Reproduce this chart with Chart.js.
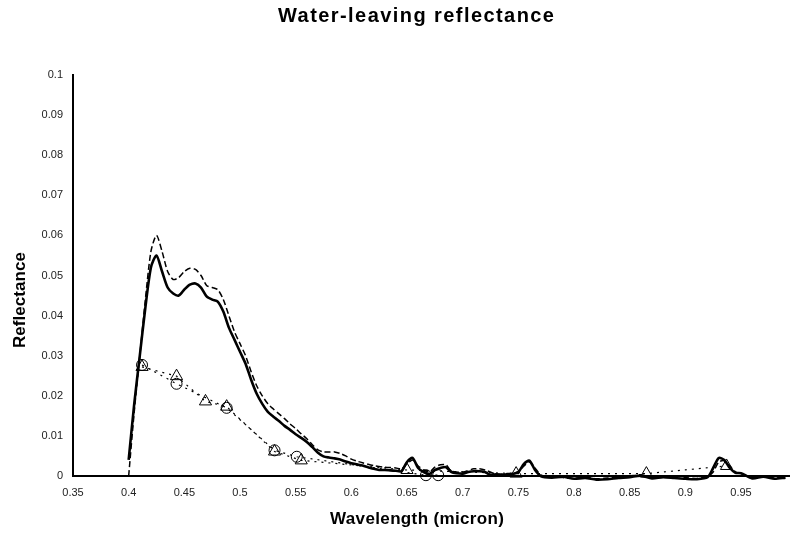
<!DOCTYPE html>
<html>
<head>
<meta charset="utf-8">
<script src="https://cdn.jsdelivr.net/npm/chart.js@4/dist/chart.umd.min.js"></script>
<style>
html,body{margin:0;padding:0;background:#fff;}
#wrap{width:790px;height:537px;position:relative;}
</style>
</head>
<body>
<div id="wrap"><canvas id="c" width="790" height="537"></canvas></div>
<script>
// ---- data ----
const titleText = "Water-leaving reflectance";
const xTitle = "Wavelength (micron)";
const yTitle = "Reflectance";

const solidWl = [0.400,0.405,0.410,0.415,0.420,0.425,0.430,0.435,0.440,0.445,0.450,0.455,0.460,0.465,0.470,0.475,0.480,0.485,0.490,0.495,0.500,0.505,0.510,0.515,0.520,0.525,0.530,0.535,0.540,0.545,0.550,0.555,0.560,0.565,0.570,0.575,0.580,0.585,0.590,0.595,0.600,0.605,0.610,0.615,0.620,0.625,0.630,0.635,0.640,0.645,0.650,0.655,0.660,0.665,0.670,0.675,0.680,0.685,0.690,0.695,0.700,0.705,0.710,0.715,0.720,0.725,0.730,0.735,0.740,0.745,0.750,0.755,0.760,0.765,0.770,0.780,0.790,0.800,0.810,0.820,0.830,0.840,0.850,0.860,0.870,0.880,0.890,0.900,0.910,0.920,0.925,0.930,0.935,0.940,0.945,0.950,0.960,0.970,0.980,0.990];
const solidVal = [0.004,0.018,0.030,0.042,0.052,0.055,0.051,0.047,0.0455,0.045,0.0465,0.0477,0.048,0.047,0.0448,0.044,0.0435,0.041,0.037,0.034,0.031,0.028,0.024,0.0205,0.018,0.016,0.0148,0.0137,0.0125,0.0115,0.0104,0.0095,0.0085,0.0072,0.0058,0.0049,0.0046,0.0044,0.0041,0.0036,0.0032,0.0029,0.0026,0.0022,0.0018,0.0015,0.0015,0.0014,0.0013,0.0012,0.0035,0.0045,0.002,0.001,0.0005,0.0015,0.002,0.0022,0.001,0.0007,0.0006,0.001,0.0012,0.0012,0.001,0.0003,0.0004,0.0003,0.0004,0.0005,0.001,0.003,0.0038,0.0015,0.0000,-0.0004,-0.0002,-0.0007,-0.0005,-0.0009,-0.0008,-0.0005,-0.0003,0.0001,-0.0006,-0.0003,-0.0005,-0.0007,-0.0008,-0.0003,0.002,0.0045,0.0040,0.002,0.0008,0.0007,-0.0006,-0.0002,-0.0007,-0.0004];

const dashWl = [0.400,0.405,0.410,0.415,0.420,0.425,0.430,0.435,0.440,0.445,0.450,0.455,0.460,0.465,0.470,0.475,0.480,0.485,0.490,0.495,0.500,0.505,0.510,0.515,0.520,0.525,0.530,0.535,0.540,0.545,0.550,0.555,0.560,0.565,0.570,0.575,0.580,0.585,0.590,0.595,0.600,0.605,0.610,0.620,0.630,0.640,0.645,0.650,0.655,0.660,0.665,0.670,0.675,0.680,0.685,0.690,0.700,0.710,0.715,0.720,0.730,0.740,0.750,0.755,0.760,0.765,0.770,0.780,0.790,0.800,0.810,0.820,0.830,0.840,0.850,0.860,0.870,0.880,0.890,0.900,0.910,0.920,0.925,0.930,0.935,0.940,0.945,0.950,0.960,0.970,0.980,0.990];
const dashVal = [0.000,0.016,0.030,0.044,0.056,0.060,0.056,0.051,0.049,0.0495,0.051,0.0518,0.0515,0.050,0.0475,0.047,0.0465,0.044,0.040,0.036,0.033,0.030,0.026,0.0225,0.020,0.018,0.0167,0.0155,0.0143,0.013,0.0118,0.0105,0.0093,0.0078,0.0065,0.006,0.006,0.006,0.0056,0.005,0.0042,0.0037,0.0033,0.0026,0.0022,0.002,0.0018,0.003,0.004,0.0025,0.0015,0.001,0.0022,0.0028,0.0028,0.0012,0.001,0.0018,0.0018,0.0015,0.0005,0.0006,0.001,0.0025,0.0035,0.002,0.0003,-0.0002,-0.0004,-0.0006,-0.0003,-0.0007,-0.0005,-0.0003,0.0000,0.0003,-0.0004,-0.0002,0.0000,-0.0004,-0.0006,-0.0001,0.001,0.0035,0.0038,0.0025,0.001,0.0005,-0.0004,-0.0001,-0.0005,-0.0002];

const circleWl = [0.412,0.443,0.488,0.531,0.551,0.667,0.678];
const circleVal = [0.0277,0.0230,0.0170,0.0064,0.0048,0.0002,0.0002];

const triWl = [0.412,0.443,0.469,0.488,0.531,0.555,0.650,0.748,0.865,0.937];
const triVal = [0.0272,0.0249,0.0186,0.0173,0.0061,0.0039,0.0015,0.0006,0.0006,0.0025];

const xTicks = [0.35,0.4,0.45,0.5,0.55,0.6,0.65,0.7,0.75,0.8,0.85,0.9,0.95];
const yTicks = [0,0.01,0.02,0.03,0.04,0.05,0.06,0.07,0.08,0.09,0.1];

// ---- build chart ----
const pts = (xs, ys) => xs.map((x, i) => ({x: x, y: ys[i]}));
const fmt = v => String(+(+v).toFixed(3));
const FONT = '"Liberation Sans", Arial, sans-serif';

function spacedText(ctx, text, cx, cy, width) {
  const base = ctx.measureText(text).width;
  const gap = Math.max(0, (width - base) / (text.length - 1));
  ctx.letterSpacing = gap.toFixed(2) + 'px';
  ctx.textAlign = 'center';
  ctx.fillText(text, cx + gap / 2, cy);
  ctx.letterSpacing = '0px';
}

const titlePlugin = {
  id: 'titles',
  afterDraw(chart) {
    const ctx = chart.ctx;
    ctx.save();
    ctx.fillStyle = '#000';
    ctx.textBaseline = 'middle';
    ctx.font = 'bold 20px ' + FONT;
    spacedText(ctx, titleText, 416, 16, 276);
    ctx.font = 'bold 17px ' + FONT;
    spacedText(ctx, xTitle, 417, 519, 174);
    ctx.translate(20, 300);
    ctx.rotate(-Math.PI / 2);
    ctx.font = 'bold 17px ' + FONT;
    spacedText(ctx, yTitle, 0, 0, 96);
    ctx.restore();
  }
};

Chart.defaults.font.family = FONT;
Chart.defaults.color = '#000';

const lineClip = {left: 0, top: 0, right: 0, bottom: 6};

new Chart(document.getElementById('c'), {
  type: 'line',
  data: {
    datasets: [
      {label: 'solid', data: pts(solidWl, solidVal), borderColor: '#000', borderWidth: 2.6, pointRadius: 0, tension: 0.25, fill: false, clip: lineClip},
      {label: 'dashed', data: pts(dashWl, dashVal), borderColor: '#000', borderWidth: 1.5, borderDash: [6, 3], pointRadius: 0, tension: 0.25, fill: false, clip: lineClip},
      {label: 'circles', data: pts(circleWl, circleVal), borderColor: '#000', borderWidth: 1.2, borderDash: [2, 5], pointStyle: 'circle', pointRadius: 5.5, pointBorderColor: '#000', pointBackgroundColor: 'rgba(255,255,255,0)', pointBorderWidth: 1, tension: 0, fill: false, clip: lineClip},
      {label: 'triangles', data: pts(triWl, triVal), borderColor: '#000', borderWidth: 1.2, borderDash: [2, 5], pointStyle: 'triangle', pointRadius: 7, pointBorderColor: '#000', pointBackgroundColor: 'rgba(255,255,255,0)', pointBorderWidth: 1, tension: 0, fill: false, clip: lineClip}
    ]
  },
  options: {
    responsive: false,
    animation: false,
    layout: {autoPadding: false, padding: {top: 75, right: 0, bottom: 0, left: 0}},
    plugins: {legend: {display: false}, tooltip: {enabled: false}, title: {display: false}},
    scales: {
      x: {
        type: 'linear', min: 0.35, max: 0.994,
        afterBuildTicks: s => { s.ticks = xTicks.map(v => ({value: v})); },
        afterFit: s => { s.height = 61; s.paddingRight = 0; s.paddingLeft = 0; },
        grid: {display: false, drawOnChartArea: false, drawTicks: true, tickLength: 5, tickColor: '#000', tickWidth: 1.5},
        border: {display: true, color: '#000', width: 2},
        ticks: {callback: v => fmt(v), font: {size: 11}, color: '#222', padding: 5, maxRotation: 0, autoSkip: false},
        title: {display: false, text: xTitle}
      },
      y: {
        type: 'linear', min: 0, max: 0.1,
        afterBuildTicks: s => { s.ticks = yTicks.map(v => ({value: v})); },
        afterFit: s => { s.width = 73; },
        grid: {display: false, drawOnChartArea: false, drawTicks: true, tickLength: 6, tickColor: '#000', tickWidth: 1.5},
        border: {display: true, color: '#000', width: 2},
        ticks: {callback: v => fmt(v), font: {size: 11}, color: '#222', padding: 4},
        title: {display: false, text: yTitle}
      }
    }
  },
  plugins: [titlePlugin]
});
</script>
</body>
</html>
